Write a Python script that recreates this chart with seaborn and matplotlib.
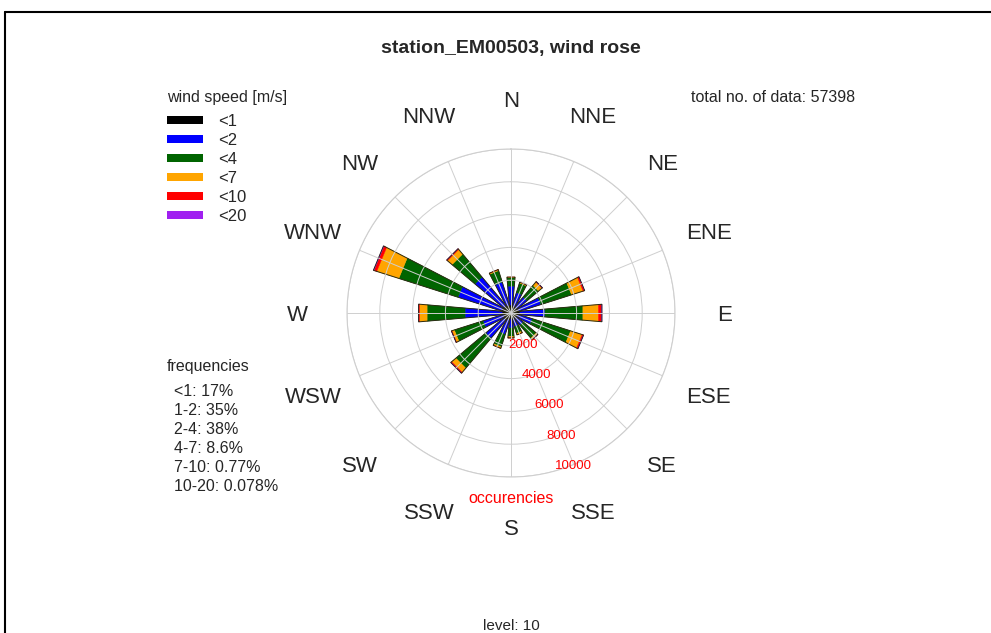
import numpy as np
import matplotlib
matplotlib.use("Agg")
import matplotlib.pyplot as plt
import seaborn as sns
from matplotlib.patches import Rectangle
from matplotlib.lines import Line2D

# wind directions (meteorological, clockwise from north)
directions = ["N", "NNE", "NE", "ENE", "E", "ESE", "SE", "SSE",
              "S", "SSW", "SW", "WSW", "W", "WNW", "NW", "NNW"]

# occurrences per direction and speed class
speed_lt1 = [490, 430, 430, 490, 550, 430, 370, 370, 370, 430, 550, 490, 550, 610, 550, 490]
speed_1_2 = [1160, 860, 800, 1410, 1530, 920, 550, 490, 550, 920, 1410, 1285, 2265, 2755, 2265, 1470]
speed_2_4 = [520, 610, 920, 1960, 2325, 2450, 1040, 430, 520, 800, 2390, 1835, 2325, 3795, 1835, 735]
speed_4_7 = [30, 60, 275, 735, 950, 735, 120, 90, 90, 90, 335, 155, 460, 1410, 365, 60]
speed_7_10 = [2, 2, 30, 90, 185, 80, 15, 5, 5, 10, 60, 30, 50, 185, 60, 10]
speed_10_20 = [0, 0, 3, 10, 30, 10, 1, 0, 0, 0, 10, 2, 10, 30, 5, 0]

speed_labels = ["<1", "<2", "<4", "<7", "<10", "<20"]
speed_colors = ["black", "blue", "#006400", "orange", "red", "#a020f0"]

freq_lines = ["<1: 17%", "1-2: 35%", "2-4: 38%", "4-7: 8.6%", "7-10: 0.77%", "10-20: 0.078%"]
ring_values = [2000, 4000, 6000, 8000, 10000]
total_count = 57398

sns.set_style("white")
plt.rcParams["font.family"] = ["Liberation Sans", "DejaVu Sans"]

W, H = 991, 633
fig = plt.figure(figsize=(W / 100, H / 100), dpi=100)

# outer frame (only top and left edges visible)
fig.add_artist(Line2D([5 / W, 1.0], [1 - 12 / H, 1 - 12 / H], transform=fig.transFigure,
                      color="black", lw=1.5))
fig.add_artist(Line2D([5 / W, 5 / W], [0.0, 1 - 12 / H], transform=fig.transFigure,
                      color="black", lw=1.5))

# polar axis centered at (511, 313) px, radius ~164 px
cx, cy, rad = 511, 313, 164
rmax = 10000
ax = fig.add_axes([(cx - rad) / W, (H - cy - rad) / H, 2 * rad / W, 2 * rad / H],
                  projection="polar")
ax.set_theta_zero_location("N")
ax.set_theta_direction(-1)

theta = np.deg2rad(np.arange(16) * 22.5)


def half_width(r):
    # tapered petals: pixel width grows roughly linearly with radius
    r_px = np.maximum(r * rad / rmax, 0.05)
    w_px = 2.0 + 0.17 * r_px
    return np.minimum(w_px / (2 * r_px), 0.16)


def petal(tc, lo, hi, n=30):
    r = np.linspace(max(lo, 1.0), hi, n)
    hw = half_width(r)
    th = np.concatenate([tc - hw, (tc + hw)[::-1]])
    rr = np.concatenate([r, r[::-1]])
    return th, rr


classes = [speed_lt1, speed_1_2, speed_2_4, speed_4_7, speed_7_10, speed_10_20]
cum = np.vstack([np.zeros(16), np.cumsum(np.array(classes, dtype=float), axis=0)])
for i, tc in enumerate(theta):
    for k, col in enumerate(speed_colors):
        lo, hi = cum[k, i], cum[k + 1, i]
        if hi - lo <= 0:
            continue
        th, rr = petal(tc, lo, hi)
        ax.fill(th, rr, facecolor=col, edgecolor=col, linewidth=0.3, zorder=2)
    th, rr = petal(tc, 0, cum[-1, i], n=80)
    ax.fill(th, rr, fill=False, edgecolor="#2a2a12", linewidth=0.7, zorder=2.5)

ax.set_ylim(0, rmax)
ax.set_yticks(ring_values)
ax.set_yticklabels([])
ax.set_xticks(theta)
ax.set_xticklabels([])
ax.grid(True, color="#cfcfcf", linewidth=0.7, zorder=3)
ax.set_axisbelow(False)
ax.spines["polar"].set_color("#cfcfcf")
ax.spines["polar"].set_linewidth(0.8)
ax.set_facecolor("white")

# radial labels along SSE
lab_ang = np.deg2rad(157.5)
for v in ring_values:
    ax.text(lab_ang, v, str(v), color="red", fontsize=9.5, ha="center",
            va="center_baseline", zorder=4)

# compass labels
for t, name in zip(theta, directions):
    ax.text(t, 13050, name, fontsize=16, ha="center", va="center_baseline", clip_on=False)

fig.text(cx / W, 1 - 497 / H, "occurencies", color="red", fontsize=11.5, ha="center",
         va="center_baseline")

fig.text(511 / W, 1 - 47 / H, "station_EM00503, wind rose", fontsize=14, fontweight="bold",
         ha="center", va="center_baseline")
fig.text(691 / W, 1 - 96 / H, f"total no. of data: {total_count}", fontsize=11.5,
         ha="left", va="center_baseline")
fig.text(511 / W, 1 - 630 / H, "level: 10", fontsize=11, ha="center", va="baseline")

# legend for wind speed classes
fig.text(167 / W, 1 - 96 / H, "wind speed [m/s]", fontsize=11.5, ha="left", va="center_baseline")
for i, (lab, col) in enumerate(zip(speed_labels, speed_colors)):
    y = 120 + i * 19
    fig.add_artist(Rectangle((167 / W, 1 - (y + 4) / H), 36 / W, 8 / H,
                             transform=fig.transFigure, facecolor=col, edgecolor="none"))
    fig.text(218 / W, 1 - (y + 6) / H, lab, fontsize=12, ha="left", va="baseline")

# frequency summary
fig.text(167 / W, 1 - 365 / H, "frequencies", fontsize=11.5, ha="left", va="center_baseline")
for i, line in enumerate(freq_lines):
    fig.text(174 / W, 1 - (390 + i * 19 + 6) / H, line, fontsize=11.5, ha="left", va="baseline")

fig.savefig("out.png", dpi=100)
